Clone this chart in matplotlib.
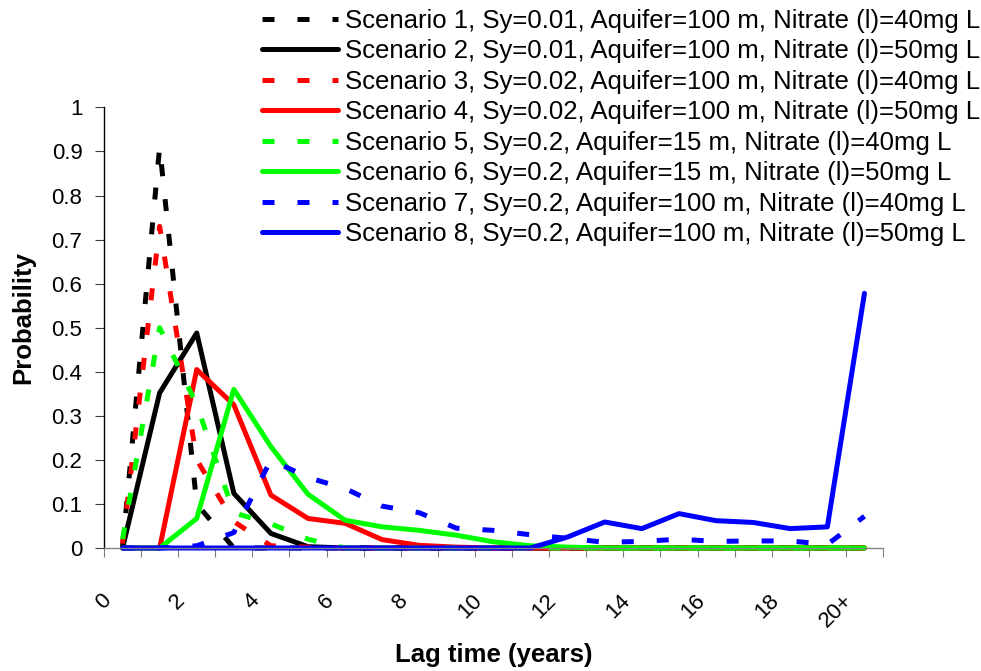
import numpy as np
import matplotlib
matplotlib.use('Agg')
import matplotlib.pyplot as plt
from matplotlib.transforms import ScaledTranslation

plt.rcParams['font.family'] = ['Liberation Sans', 'DejaVu Sans']

# lag time classes (years), last one is open ended
lag_labels = ['0', '2', '4', '6', '8', '10', '12', '14', '16', '18', '20+']
n_classes = 21

scenario_names = [
    'Scenario 1, Sy=0.01, Aquifer=100 m, Nitrate (l)=40mg L',
    'Scenario 2, Sy=0.01, Aquifer=100 m, Nitrate (l)=50mg L',
    'Scenario 3, Sy=0.02, Aquifer=100 m, Nitrate (l)=40mg L',
    'Scenario 4, Sy=0.02, Aquifer=100 m, Nitrate (l)=50mg L',
    'Scenario 5, Sy=0.2, Aquifer=15 m, Nitrate (l)=40mg L',
    'Scenario 6, Sy=0.2, Aquifer=15 m, Nitrate (l)=50mg L',
    'Scenario 7, Sy=0.2, Aquifer=100 m, Nitrate (l)=40mg L',
    'Scenario 8, Sy=0.2, Aquifer=100 m, Nitrate (l)=50mg L',
]

# probabilities per lag class
s1 = [0.0, 0.91, 0.10, 0.0, 0.0, 0.0, 0.0, 0.0, 0.0, 0.0, 0.0,
      0.0, 0.0, 0.0, 0.0, 0.0, 0.0, 0.0, 0.0, 0.0, 0.0]
s2 = [0.0, 0.352, 0.488, 0.124, 0.033, 0.003, 0.0, 0.0, 0.0, 0.0, 0.0,
      0.0, 0.0, 0.0, 0.0, 0.0, 0.0, 0.0, 0.0, 0.0, 0.0]
s3 = [0.01, 0.73, 0.20, 0.06, 0.005, 0.002, 0.0, 0.0, 0.0, 0.0, 0.0,
      0.0, 0.0, 0.0, 0.0, 0.0, 0.0, 0.0, 0.0, 0.0, 0.0]
s4 = [0.0, 0.0, 0.405, 0.325, 0.12, 0.067, 0.056, 0.019, 0.006, 0.002, 0.0,
      0.0, 0.0, 0.0, 0.0, 0.0, 0.0, 0.0, 0.0, 0.0, 0.0]
s5 = [0.02, 0.50, 0.325, 0.08, 0.055, 0.02, 0.0, 0.0, 0.0, 0.0, 0.0,
      0.0, 0.0, 0.0, 0.0, 0.0, 0.0, 0.0, 0.0, 0.0, 0.0]
s6 = [0.0, 0.0, 0.067, 0.36, 0.23, 0.122, 0.063, 0.048, 0.04, 0.029, 0.014,
      0.005, 0.002, 0.0, 0.0, 0.0, 0.0, 0.0, 0.0, 0.0, 0.0]
s7 = [0.0, 0.0, 0.005, 0.035, 0.20, 0.16, 0.135, 0.095, 0.08, 0.045, 0.04,
      0.03, 0.022, 0.013, 0.015, 0.02, 0.015, 0.016, 0.016, 0.008, 0.072]
s8 = [0.0, 0.0, 0.0, 0.0, 0.0, 0.0, 0.0, 0.0, 0.0, 0.0, 0.0,
      0.0, 0.025, 0.059, 0.044, 0.078, 0.062, 0.058, 0.044, 0.048, 0.578]

series = [s1, s2, s3, s4, s5, s6, s7, s8]
colors = ['black', 'black', '#ff0000', '#ff0000', '#00ff00', '#00ff00', '#0000ff', '#0000ff']
dashed = [True, False, True, False, True, False, True, False]

fig = plt.figure(figsize=(9.81, 6.71), dpi=100)
ax = fig.add_axes([104/981, 123/671, 779/981, 440.6/671])

x = np.arange(n_classes) + 0.5
for vals, c, d, name in zip(series, colors, dashed, scenario_names):
    if d:
        ax.plot(x, vals, color=c, lw=3.6, dashes=(2.4, 4.6), label=name, clip_on=False)
    else:
        ax.plot(x, vals, color=c, lw=3.6, label=name, clip_on=False,
                solid_joinstyle='round', solid_capstyle='round')

ax.set_xlim(0, n_classes)
ax.set_ylim(0, 1)

ax.spines['top'].set_visible(False)
ax.spines['right'].set_visible(False)
ax.spines['left'].set_color('black')
ax.spines['bottom'].set_color('#808080')
ax.spines['left'].set_linewidth(1.0)
ax.spines['bottom'].set_linewidth(1.0)

yt = np.round(np.arange(0, 1.01, 0.1), 1)
ax.set_yticks(yt)
ax.set_yticklabels(['0' if v == 0 else ('1' if v == 1 else f'{v:.1f}') for v in yt])
ax.tick_params(axis='y', direction='out', length=6.5, width=0.8, color='#404040',
               labelsize=16, pad=9)

ax.set_xticks(np.arange(0, 21, 2))
ax.set_xticks(np.arange(0, 22, 1), minor=True)
ax.set_xticklabels(lag_labels)
ax.tick_params(axis='x', which='both', direction='out', length=6.5, width=0.8,
               color='#808080')
ax.tick_params(axis='x', which='major', labelsize=16, pad=29)
shift = ScaledTranslation(4/100, 0, fig.dpi_scale_trans)
for lab in ax.get_xticklabels():
    lab.set_rotation(45)
    lab.set_ha('right')
    lab.set_va('center')
    lab.set_rotation_mode('anchor')
    lab.set_transform(lab.get_transform() + shift)

fig.text(494/981, 1 - 655/671, 'Lag time (years)', fontsize=18.5, fontweight='bold',
         ha='center', va='center')
fig.text(23/981, 1 - 318/671, 'Probability', fontsize=18.5, fontweight='bold',
         rotation=90, ha='center', va='center')

ax.legend(loc='upper left', bbox_to_anchor=(262/981, 1 - 9/671),
          bbox_transform=fig.transFigure, frameon=False, fontsize=18.5,
          handlelength=2.96, handletextpad=0.27, labelspacing=0.25,
          borderpad=0, borderaxespad=0)

fig.savefig('out.png', dpi=100)
